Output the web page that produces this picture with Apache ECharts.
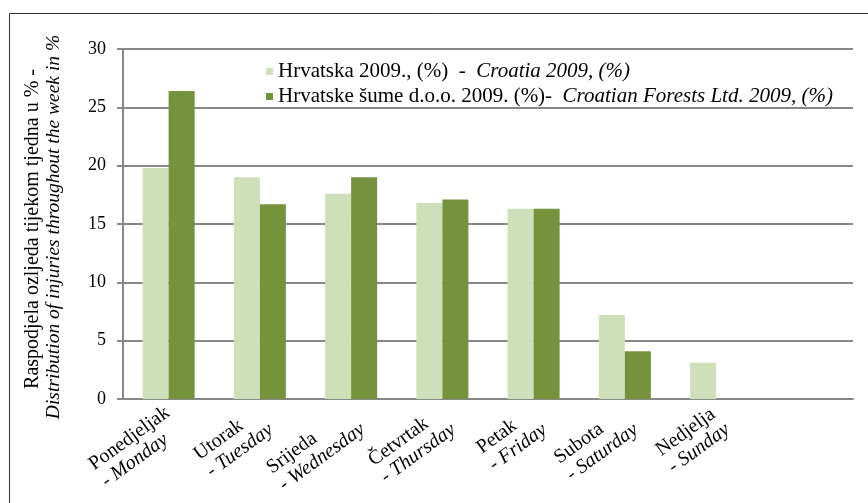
<!DOCTYPE html>
<html>
<head>
<meta charset="utf-8">
<script src="https://cdn.jsdelivr.net/npm/echarts@6/dist/echarts.min.js"></script>
<style>html,body{margin:0;padding:0;background:#fff;}#c{width:868px;height:503px;}</style>
</head>
<body>
<div id="c"></div>
<script>
var daysHr = ['Ponedjeljak', 'Utorak', 'Srijeda', 'Četvrtak', 'Petak', 'Subota', 'Nedjelja', ''];
var daysEn = ['Monday', 'Tuesday', 'Wednesday', 'Thursday', 'Friday', 'Saturday', 'Sunday', ''];
var croatia = [19.8, 19.0, 17.6, 16.8, 16.3, 7.2, 3.1, null];
var forests = [26.4, 16.7, 19.0, 17.1, 16.3, 4.1, 0, null];
var seriesNames = ['Hrvatska 2009., (%)', 'Hrvatske šume d.o.o. 2009. (%)'];
var seriesNamesEn = ['Croatia 2009, (%)', 'Croatian Forests Ltd. 2009, (%)'];
var seriesSep = ['  -  ', '-  '];
var yTicks = [0, 5, 10, 15, 20, 25, 30];

var FONT = "'Liberation Serif', 'DejaVu Serif', serif";
var XFS = 20;
var cats = daysHr.map(function (d, i) { return i; });

// x-axis labels: two lines left-aligned inside a block that is anchored by its right edge
var mctx = document.createElement('canvas').getContext('2d');
function tw(t, italic) {
  mctx.font = (italic ? 'italic ' : '') + XFS + 'px ' + FONT;
  return mctx.measureText(t).width;
}
var xRich = {};
daysHr.forEach(function (d, i) {
  if (!d) return;
  var w = Math.ceil(Math.max(tw(d, false), tw('- ' + daysEn[i], true))) + 1;
  xRich['a' + i] = { fontFamily: FONT, fontSize: XFS, color: '#000', lineHeight: 21, width: w, align: 'left' };
  xRich['b' + i] = { fontFamily: FONT, fontSize: XFS, color: '#000', fontStyle: 'italic', lineHeight: 21, width: w, align: 'left' };
});

var chart = echarts.init(document.getElementById('c'), null, { renderer: 'canvas' });
chart.setOption({
  backgroundColor: '#fff',
  animation: false,
  grid: { left: 123, right: 15, top: 49, bottom: 104, containLabel: false },
  legend: {
    orient: 'vertical',
    left: 266, top: 61,
    itemWidth: 7, itemHeight: 7, itemGap: 4, padding: 0,
    icon: 'rect',
    data: seriesNames,
    formatter: function (name) {
      var i = seriesNames.indexOf(name);
      return '{a|' + name + seriesSep[i] + '}{b|' + seriesNamesEn[i] + '}';
    },
    textStyle: {
      fontFamily: FONT, fontSize: 21, color: '#000',
      rich: {
        a: { fontFamily: FONT, fontSize: 21, color: '#000', lineHeight: 22 },
        b: { fontFamily: FONT, fontSize: 21, color: '#000', fontStyle: 'italic', lineHeight: 22 }
      }
    }
  },
  xAxis: {
    type: 'category',
    data: cats,
    axisLine: { lineStyle: { color: '#888', width: 2 } },
    axisTick: { show: false },
    axisLabel: {
      interval: 0, rotate: 36, margin: 24, padding: [0, -8, 0, 0],
      fontFamily: FONT, fontSize: XFS, color: '#000',
      formatter: function (v) {
        var i = +v;
        if (!daysHr[i]) return '';
        return '{a' + i + '|' + daysHr[i] + '}\n{b' + i + '|- ' + daysEn[i] + '}';
      },
      rich: xRich
    }
  },
  yAxis: {
    type: 'value', min: 0, max: 30, interval: 5,
    axisLine: { show: true, lineStyle: { color: '#888', width: 2 } },
    axisTick: { show: true, length: 6, lineStyle: { color: '#888', width: 2 } },
    splitLine: { lineStyle: { color: '#888', width: 2 } },
    axisLabel: {
      margin: 17, fontFamily: FONT, fontSize: 18, color: '#000',
      formatter: function (v) { return yTicks.indexOf(v) >= 0 ? String(v) : ''; }
    }
  },
  series: [
    { name: seriesNames[0], type: 'bar', data: croatia, barGap: 0, barCategoryGap: '43%',
      itemStyle: { color: '#cfdfba' } },
    { name: seriesNames[1], type: 'bar', data: forests, barGap: 0, barCategoryGap: '43%',
      itemStyle: { color: '#76923c' } }
  ],
  graphic: [
    { type: 'rect', shape: { x: 9.5, y: 13.5, width: 900, height: 600 }, style: { fill: null, stroke: '#333', lineWidth: 1 }, silent: true, z: -1 },
    { type: 'text', x: 33, y: 229, rotation: Math.PI / 2,
      style: { text: 'Raspodjela ozljeda tijekom tjedna u % -', fontFamily: FONT, fontSize: 20, fill: '#000', align: 'center', verticalAlign: 'middle' } },
    { type: 'text', x: 54, y: 227, rotation: Math.PI / 2,
      style: { text: 'Distribution of injuries throughout the week in %', fontFamily: FONT, fontSize: 19.5, fontStyle: 'italic', fill: '#000', align: 'center', verticalAlign: 'middle' } }
  ]
});
</script>
</body>
</html>
